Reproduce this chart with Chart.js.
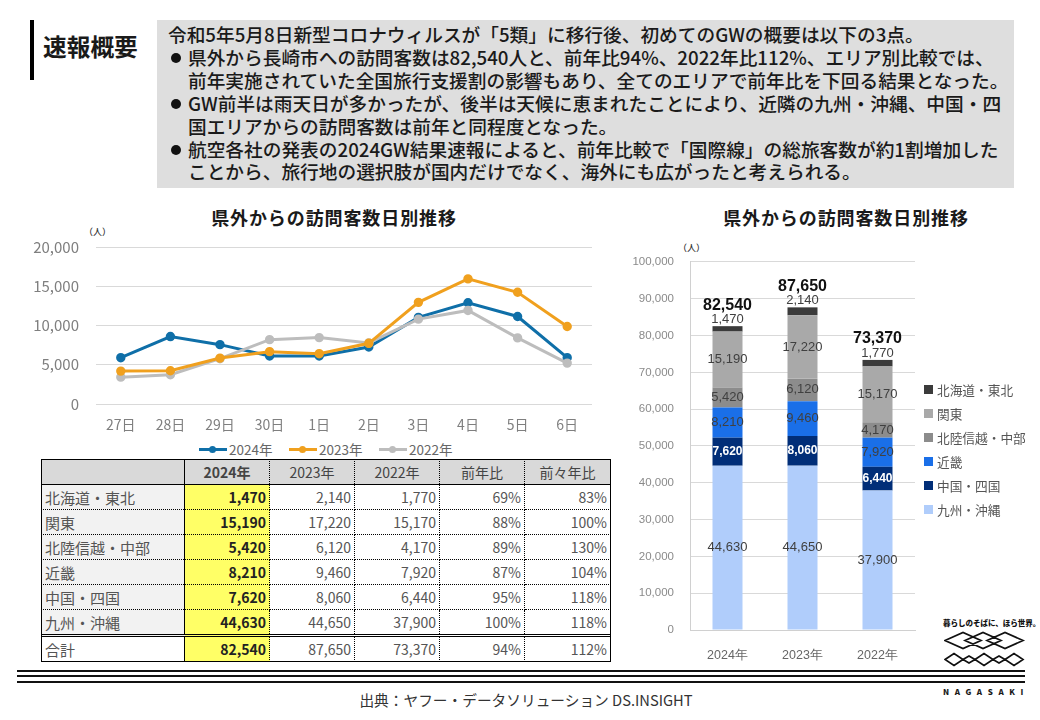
<!DOCTYPE html>
<html lang="ja">
<head>
<meta charset="utf-8">
<script src="https://cdn.jsdelivr.net/npm/chart.js@4"></script>
<style>
  html, body { margin: 0; padding: 0; background: #fff; }
  body { width: 1040px; height: 720px; position: relative; overflow: hidden;
    font-family: "Noto Sans CJK JP", "Noto Sans", sans-serif; color: #1a1a1a; }
  .abs { position: absolute; }
  canvas { position: absolute; }
  #summary { left: 157px; top: 20px; width: 857px; height: 168px; background: #dedede; box-sizing: border-box;
    padding: 3px 0 0 11px; font-family: "Liberation Sans Narrow", "Noto Sans CJK JP", sans-serif;
    font-size: 18.7px; line-height: 22.9px; white-space: nowrap; font-weight: 500; }
  #summary div.b { padding-left: 20px; position: relative; }
  #summary div.b::before { content: ""; position: absolute; left: 3px; top: 7px; width: 10px; height: 10px;
    border-radius: 50%; background: #111; }
  .title { font-size: 18px; font-weight: 700; letter-spacing: .9px; text-align: center; white-space: nowrap; }
  .unit { font-size: 9px; font-weight: 500; color: #333; }
  #dataTable { position: absolute; left: 41px; top: 459px; width: 569px; height: 203px; border-collapse: collapse;
    table-layout: fixed; font-size: 14px; color: #555; }
  #dataTable td { border: 1px dotted #000; padding: 0 3px; height: 24px; text-align: right; line-height: 1; }
  #dataTable tr:first-child td { background: #d9d9d9; text-align: center; border-bottom: 1px solid #000; color: #444; }
  #dataTable td:first-child { text-align: left; background: #f2f2f2; border-right: 1px solid #000; font-size: 15px; }
  #dataTable td.y { background: #ffff66; font-weight: 700; color: #222; }
  #dataTable tr:first-child td.y { background: #d9d9d9; }
  #dataTable tr:last-child td { border-top: 3px double #000; background: #fff; }
  #dataTable tr:last-child td.y { background: #ffff66; }
  #dataTable { outline: 1px solid #000; outline-offset: -1px; }
  .rule { left: 17px; width: 1008px; height: 2px; background: #111; }
  #lineLegend span { position: absolute; top: 0; font-size: 13.5px; color: #666; }
  #lineLegend i { position: absolute; height: 3px; width: 28px; top: 9px; }
  #lineLegend b { position: absolute; width: 7px; height: 7px; border-radius: 50%; top: 7px; }
  #barLegend div { position: absolute; left: 0; font-size: 12.7px; color: #555; white-space: nowrap; padding-left: 13px; }
  #barLegend i { position: absolute; left: 0; top: 5px; width: 9px; height: 9px; }
</style>
</head>
<body>
<div class="abs" style="left:30px;top:20px;width:4px;height:60px;background:#000"></div>
<div class="abs" style="left:43px;top:29px;font-size:23.7px;font-weight:700;white-space:nowrap">速報概要</div>
<div class="abs" id="summary">
  <div>令和5年5月8日新型コロナウィルスが「5類」に移行後、初めてのGWの概要は以下の3点。</div>
  <div class="b">県外から長崎市への訪問客数は82,540人と、前年比94%、2022年比112%、エリア別比較では、<br>前年実施されていた全国旅行支援割の影響もあり、全てのエリアで前年比を下回る結果となった。</div>
  <div class="b">GW前半は雨天日が多かったが、後半は天候に恵まれたことにより、近隣の九州・沖縄、中国・四<br>国エリアからの訪問客数は前年と同程度となった。</div>
  <div class="b">航空各社の発表の2024GW結果速報によると、前年比較で「国際線」の総旅客数が約1割増加した<br>ことから、旅行地の選択肢が国内だけでなく、海外にも広がったと考えられる。</div>
</div>

<div class="abs title" style="left:184px;top:204px;width:300px">県外からの訪問客数日別推移</div>
<div class="abs title" style="left:696px;top:204px;width:300px">県外からの訪問客数日別推移</div>
<div class="abs unit" style="left:84px;top:225px">（人）</div>
<div class="abs unit" style="left:678px;top:241px">（人）</div>

<canvas id="lineChart" width="570" height="214" style="left:30px;top:221px"></canvas>
<div class="abs" id="lineLegend" style="left:0;top:439px;width:600px;height:20px"></div>
<table id="dataTable"></table>

<canvas id="barChart" width="300" height="431" style="left:625px;top:239px"></canvas>
<div class="abs" id="barLegend" style="left:924px;top:380px;width:110px;height:140px"></div>

<div class="abs rule" style="top:670px"></div>
<div class="abs rule" style="top:675px"></div>
<div class="abs rule" style="top:681px"></div>
<div class="abs" style="left:0;width:1052px;top:689px;font-size:14.7px;color:#333;text-align:center;white-space:nowrap">出典：ヤフー・データソリューション DS.INSIGHT</div>

<div class="abs" style="left:943px;top:617px;width:84px;font-size:7.5px;font-weight:900;white-space:nowrap;color:#111">暮らしのそばに、ほら世界。</div>
<svg class="abs" style="left:944px;top:630px" width="82" height="38" fill="none" stroke="#111" stroke-width="1.7">
  <path d="M1 10.5 L19 2.5 L37 10.5 L19 18.5 Z M21 10.5 L39 2.5 L57 10.5 L39 18.5 Z M43 10.5 L61 2.5 L79 10.5 L61 18.5 Z"/>
  <path d="M1 29.5 L10 23.5 L19 29.5 L10 35.5 Z M19 29.5 L25 26 L31 29.5 L25 33 Z M31 29.5 L40 23.5 L49 29.5 L40 35.5 Z M49 29.5 L55 26 L61 29.5 L55 33 Z M61 29.5 L70 23.5 L79 29.5 L70 35.5 Z"/>
</svg>
<div class="abs" style="left:943px;top:686px;font-size:8px;font-weight:900;letter-spacing:5.6px;white-space:nowrap">NAGASAKI</div>

<script>
// data
const days = ["27日", "28日", "29日", "30日", "1日", "2日", "3日", "4日", "5日", "6日"];
const visitors2024 = [5900, 8590, 7560, 6110, 6110, 7260, 11030, 12900, 11150, 5900];
const visitors2023 = [4190, 4230, 5850, 6670, 6410, 7730, 12950, 15940, 14230, 9870];
const visitors2022 = [3420, 3720, 5770, 8200, 8460, 7780, 10810, 11920, 8420, 5210];

const years = ["2024年", "2023年", "2022年"];
const regions = ["北海道・東北", "関東", "北陸信越・中部", "近畿", "中国・四国", "九州・沖縄"];
const hokkaido = [1470, 2140, 1770];
const kanto = [15190, 17220, 15170];
const hokuriku = [5420, 6120, 4170];
const kinki = [8210, 9460, 7920];
const chugoku = [7620, 8060, 6440];
const kyushu = [44630, 44650, 37900];
const totals = [82540, 87650, 73370];
const yoyRatio = ["69%", "88%", "89%", "87%", "95%", "100%"];
const twoYearRatio = ["83%", "100%", "130%", "104%", "118%", "118%"];
const totalRatios = ["94%", "112%"];

const regionValues = [hokkaido, kanto, hokuriku, kinki, chugoku, kyushu];
const regionColors = ["#3b3b3b", "#a9a9a9", "#8c8c8c", "#1a6fe8", "#012e78", "#b0cdfb"];
const lineColors = ["#0f6fa8", "#f0a01e", "#bdbdbd"];

const fmt = v => v.toLocaleString("en-US");
const latin = "'Liberation Sans', sans-serif";
const cjk = "'Noto Sans CJK JP', sans-serif";

// -------------------------------
// LINE CHART
// -------------------------------
new Chart(document.getElementById("lineChart"), {
  type: "line",
  data: {
    labels: days,
    datasets: [visitors2024, visitors2023, visitors2022].map((d, i) => ({
      label: years[i],
      data: d,
      borderColor: lineColors[i],
      backgroundColor: lineColors[i],
      borderWidth: 3,
      pointRadius: 3.2,
      pointHoverRadius: 3.2,
      tension: 0,
      order: i === 0 ? 1 : 0
    }))
  },
  options: {
    responsive: false,
    animation: false,
    layout: { padding: { top: 7, right: 8, left: 0, bottom: 0 } },
    plugins: { legend: { display: false }, tooltip: { enabled: false } },
    scales: {
      x: {
        offset: true,
        grid: { display: false },
        border: { display: false },
        afterFit: s => { s.height = 31; },
        ticks: { color: "#7f7f7f", font: { family: cjk, size: 14 }, padding: 4, maxRotation: 0 }
      },
      y: {
        min: 0, max: 20000,
        afterFit: s => { s.width = 66; },
        grid: { color: "#d9d9d9", drawTicks: false },
        border: { display: false },
        ticks: { stepSize: 5000, color: "#7f7f7f", font: { family: cjk, size: 15 }, padding: 17, callback: v => fmt(v) }
      }
    }
  }
});

// line legend
const lineLegend = document.getElementById("lineLegend");
[199, 289, 379].forEach((x, i) => {
  lineLegend.innerHTML += `<i style="left:${x}px;background:${lineColors[i]}"></i>` +
    `<b style="left:${x + 10}px;background:${lineColors[i]}"></b>` +
    `<span style="left:${x + 30}px">${years[i]}</span>`;
});

// -------------------------------
// TABLE
// -------------------------------
const table = document.getElementById("dataTable");
let rows = `<colgroup><col style="width:143px"><col style="width:85px"><col style="width:85px"><col style="width:85px"><col style="width:85px"><col style="width:86px"></colgroup>`;
rows += `<tr><td></td><td class="y">${years[0]}</td><td>${years[1]}</td><td>${years[2]}</td><td>前年比</td><td>前々年比</td></tr>`;
regions.forEach((r, i) => {
  const v = regionValues[i];
  rows += `<tr><td>${r}</td><td class="y">${fmt(v[0])}</td><td>${fmt(v[1])}</td><td>${fmt(v[2])}</td><td>${yoyRatio[i]}</td><td>${twoYearRatio[i]}</td></tr>`;
});
rows += `<tr><td>合計</td><td class="y">${fmt(totals[0])}</td><td>${fmt(totals[1])}</td><td>${fmt(totals[2])}</td><td>${totalRatios[0]}</td><td>${totalRatios[1]}</td></tr>`;
table.innerHTML = rows;

// -------------------------------
// STACKED BAR CHART
// -------------------------------
const stackLabels = {
  id: "stackLabels",
  afterDatasetsDraw(chart) {
    const { ctx } = chart;
    ctx.save();
    ctx.textAlign = "center";
    ctx.textBaseline = "middle";
    chart.data.datasets.forEach((ds, di) => {
      const meta = chart.getDatasetMeta(di);
      meta.data.forEach((bar, i) => {
        const isTop = ds.label === regions[0];
        const isDark = ds.label === regions[4];
        ctx.font = (isDark ? "bold 12px " : "13px ") + latin;
        ctx.fillStyle = isDark ? "#fff" : "#404040";
        const y = isTop ? bar.y - 7 : (bar.y + bar.base) / 2;
        ctx.fillText(fmt(ds.data[i]), bar.x, y);
        if (isTop) {
          ctx.font = "bold 16px " + latin;
          ctx.fillStyle = "#111";
          ctx.fillText(fmt(totals[i]), bar.x, bar.y - 21);
        }
      });
    });
    ctx.restore();
  }
};

new Chart(document.getElementById("barChart"), {
  type: "bar",
  plugins: [stackLabels],
  data: {
    labels: years,
    datasets: regions.map((r, i) => ({
      label: r,
      data: regionValues[i],
      backgroundColor: regionColors[i],
      categoryPercentage: 0.4,
      barPercentage: 1
    })).reverse()
  },
  options: {
    responsive: false,
    animation: false,
    layout: { padding: { top: 14, right: 10, left: 0, bottom: 0 } },
    plugins: { legend: { display: false }, tooltip: { enabled: false } },
    scales: {
      x: {
        stacked: true,
        grid: { display: false },
        border: { color: "#d0d0d0" },
        afterFit: s => { s.height = 40; },
        ticks: { color: "#666", font: { family: latin, size: 12.5 }, padding: 10, maxRotation: 0 }
      },
      y: {
        stacked: true,
        min: 0, max: 100000,
        afterFit: s => { s.width = 65; },
        grid: { color: "#d9d9d9", drawTicks: false },
        border: { color: "#d0d0d0" },
        ticks: { stepSize: 10000, color: "#8a8a8a", font: { family: latin, size: 11.5 }, padding: 16, callback: v => fmt(v) }
      }
    }
  }
});

// bar legend, top to bottom as in the stack
const barLegend = document.getElementById("barLegend");
regions.forEach((r, i) => {
  barLegend.innerHTML += `<div style="top:${i * 24}px"><i style="background:${regionColors[i]}"></i>${r}</div>`;
});
</script>
</body>
</html>
